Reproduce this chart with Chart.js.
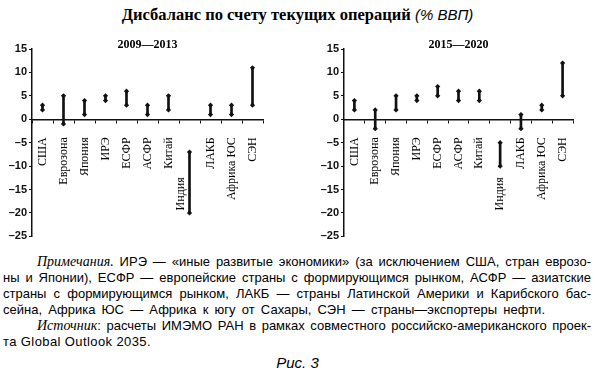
<!DOCTYPE html>
<html>
<head>
<meta charset="utf-8">
<script src="https://cdn.jsdelivr.net/npm/chart.js@4/dist/chart.umd.min.js"></script>
<style>
  body { margin: 0; background: #fff; }
  #wrap { position: relative; width: 595px; height: 371px; overflow: hidden; color: #000; }
  #title { position: absolute; left: 0; width: 595px; top: 5px; text-align: center;
           font: bold 16.5px "Liberation Serif", serif; }
  #title i { font-weight: normal; font-family: "Liberation Sans", sans-serif; font-size: 15px; }
  .cv { position: absolute; top: 40px; }
  .ln { position: absolute; left: 3px; width: 588px; font: 13px "Liberation Sans Narrow", "Liberation Sans", sans-serif;
        text-align: justify; text-align-last: justify; white-space: nowrap; line-height: 16px; }
  .ln.ind { left: 37px; width: 554px; }
  .ln.last { text-align-last: left; }
  .ln i { font-family: "Liberation Serif", serif; font-size: 14px; }
  #fig { position: absolute; top: 354px; width: 595px; text-align: center; font: italic 15px "Liberation Sans", sans-serif; }
</style>
</head>
<body>
<div id="wrap">
  <div id="title">Дисбаланс по счету текущих операций <i>(% ВВП)</i></div>
  <canvas id="c1" class="cv" style="left:0px" width="268" height="205"></canvas>
  <canvas id="c2" class="cv" style="left:312px" width="266" height="205"></canvas>
  <div class="ln ind" style="top:254px"><i>Примечания.</i> ИРЭ — «иные развитые экономики» (за исключением США, стран еврозо-</div>
  <div class="ln" style="top:270px">ны и Японии), ЕСФР — европейские страны с формирующимся рынком, АСФР — азиатские</div>
  <div class="ln" style="top:286px">страны с формирующимся рынком, ЛАКБ — страны Латинской Америки и Карибского бас-</div>
  <div class="ln" style="top:302px;width:542px">сейна, Африка ЮС — Африка к югу от Сахары, СЭН — страны—экспортеры нефти.</div>
  <div class="ln ind" style="top:318px"><i>Источник</i>: расчеты ИМЭМО РАН в рамках совместного российско-американского проек-</div>
  <div class="ln last" style="top:334px;width:auto;letter-spacing:0.4px">та Global Outlook 2035.</div>
  <div id="fig">Рис. 3</div>
</div>
<script>
const regions = ['США', 'Еврозона', 'Япония', 'ИРЭ', 'ЕСФР', 'АСФР', 'Китай', 'Индия', 'ЛАКБ', 'Африка ЮС', 'СЭН'];
const yTicks = [15, 10, 5, 0, -5, -10, -15, -20, -25];

// 2009-2013
const low1  = [2, -1, 1, 4, 3, 1, 2, -20, 1, 1, 3];
const high1 = [3, 5, 4, 5, 6, 3, 5, -7, 3, 3, 11];
// 2015-2020
const low2  = [2, -2, 2, 4, 5, 4, 4, -10, -2, 2, 5];
const high2 = [4, 2, 5, 5, 7, 6, 6, -5, 1, 3, 12];

const labelPlugin = {
    id: 'catLabels',
    afterDraw(chart, args, opts) {
        const ctx = chart.ctx;
        const x = chart.scales.x;
        const y0 = chart.scales.y.getPixelForValue(0);
        const area = chart.chartArea;
        ctx.save();
        ctx.fillStyle = '#000';
        // panel subtitle
        ctx.font = 'bold 12px "Liberation Serif", serif';
        ctx.textAlign = 'center';
        ctx.textBaseline = 'middle';
        ctx.fillText(opts.title, (area.left + area.right) / 2, area.top - 4);
        // rotated category names
        ctx.font = '12px "Liberation Serif", serif';
        regions.forEach((name, i) => {
            let px = x.getPixelForValue(i);
            let py = y0 + 18;
            if (name === 'Индия') { px += opts.indiaShift; py = y0 + 58; }
            ctx.save();
            ctx.translate(px, py);
            ctx.rotate(-Math.PI / 2);
            ctx.textAlign = 'right';
            ctx.textBaseline = 'middle';
            ctx.fillText(name, 0, 0);
            ctx.restore();
        });
        ctx.restore();
    }
};

function makeChart(id, low, high, title, indiaShift) {
    const ctx = document.getElementById(id).getContext('2d');
    return new Chart(ctx, {
        type: 'bar',
        data: {
            labels: regions,
            datasets: [{
                data: low.map((v, i) => [v, high[i]]),
                backgroundColor: '#111',
                barThickness: 2,
                order: 2
            },
            {
                type: 'line',
                data: high,
                showLine: false,
                pointStyle: 'rectRot',
                pointRadius: 2.6,
                backgroundColor: '#111',
                borderColor: '#111',
                borderWidth: 0,
                order: 1
            },
            {
                type: 'line',
                data: low,
                showLine: false,
                pointStyle: 'rectRot',
                pointRadius: 2.6,
                backgroundColor: '#111',
                borderColor: '#111',
                borderWidth: 0,
                order: 1
            }]
        },
        options: {
            responsive: false,
            animation: false,
            layout: { padding: { top: 9, bottom: 8, left: 0, right: 5 } },
            plugins: {
                legend: { display: false },
                tooltip: { enabled: false },
                catLabels: { title: title, indiaShift: indiaShift }
            },
            scales: {
                x: {
                    position: { y: 0 },
                    offset: true,
                    ticks: { display: false },
                    grid: { drawOnChartArea: false, drawTicks: true, tickLength: 3, tickColor: '#111', offset: true },
                    border: { display: true, color: '#111', width: 1.5 }
                },
                y: {
                    min: -25,
                    max: 15,
                    afterFit(scale) { scale.width = 32; },
                    afterBuildTicks(scale) { scale.ticks = yTicks.map(v => ({ value: v })); },
                    ticks: {
                        color: '#111',
                        padding: 2,
                        font: { family: '"Liberation Sans", sans-serif', size: 11, weight: 'bold' },
                        callback: v => v < 0 ? '–' + Math.abs(v) : String(v)
                    },
                    grid: { drawOnChartArea: false, drawTicks: true, tickLength: 3, tickColor: '#111' },
                    border: { display: true, color: '#111', width: 1.5 }
                }
            }
        },
        plugins: [labelPlugin]
    });
}

makeChart('c1', low1, high1, '2009—2013', -9);
makeChart('c2', low2, high2, '2015—2020', 0);
</script>
</body>
</html>
